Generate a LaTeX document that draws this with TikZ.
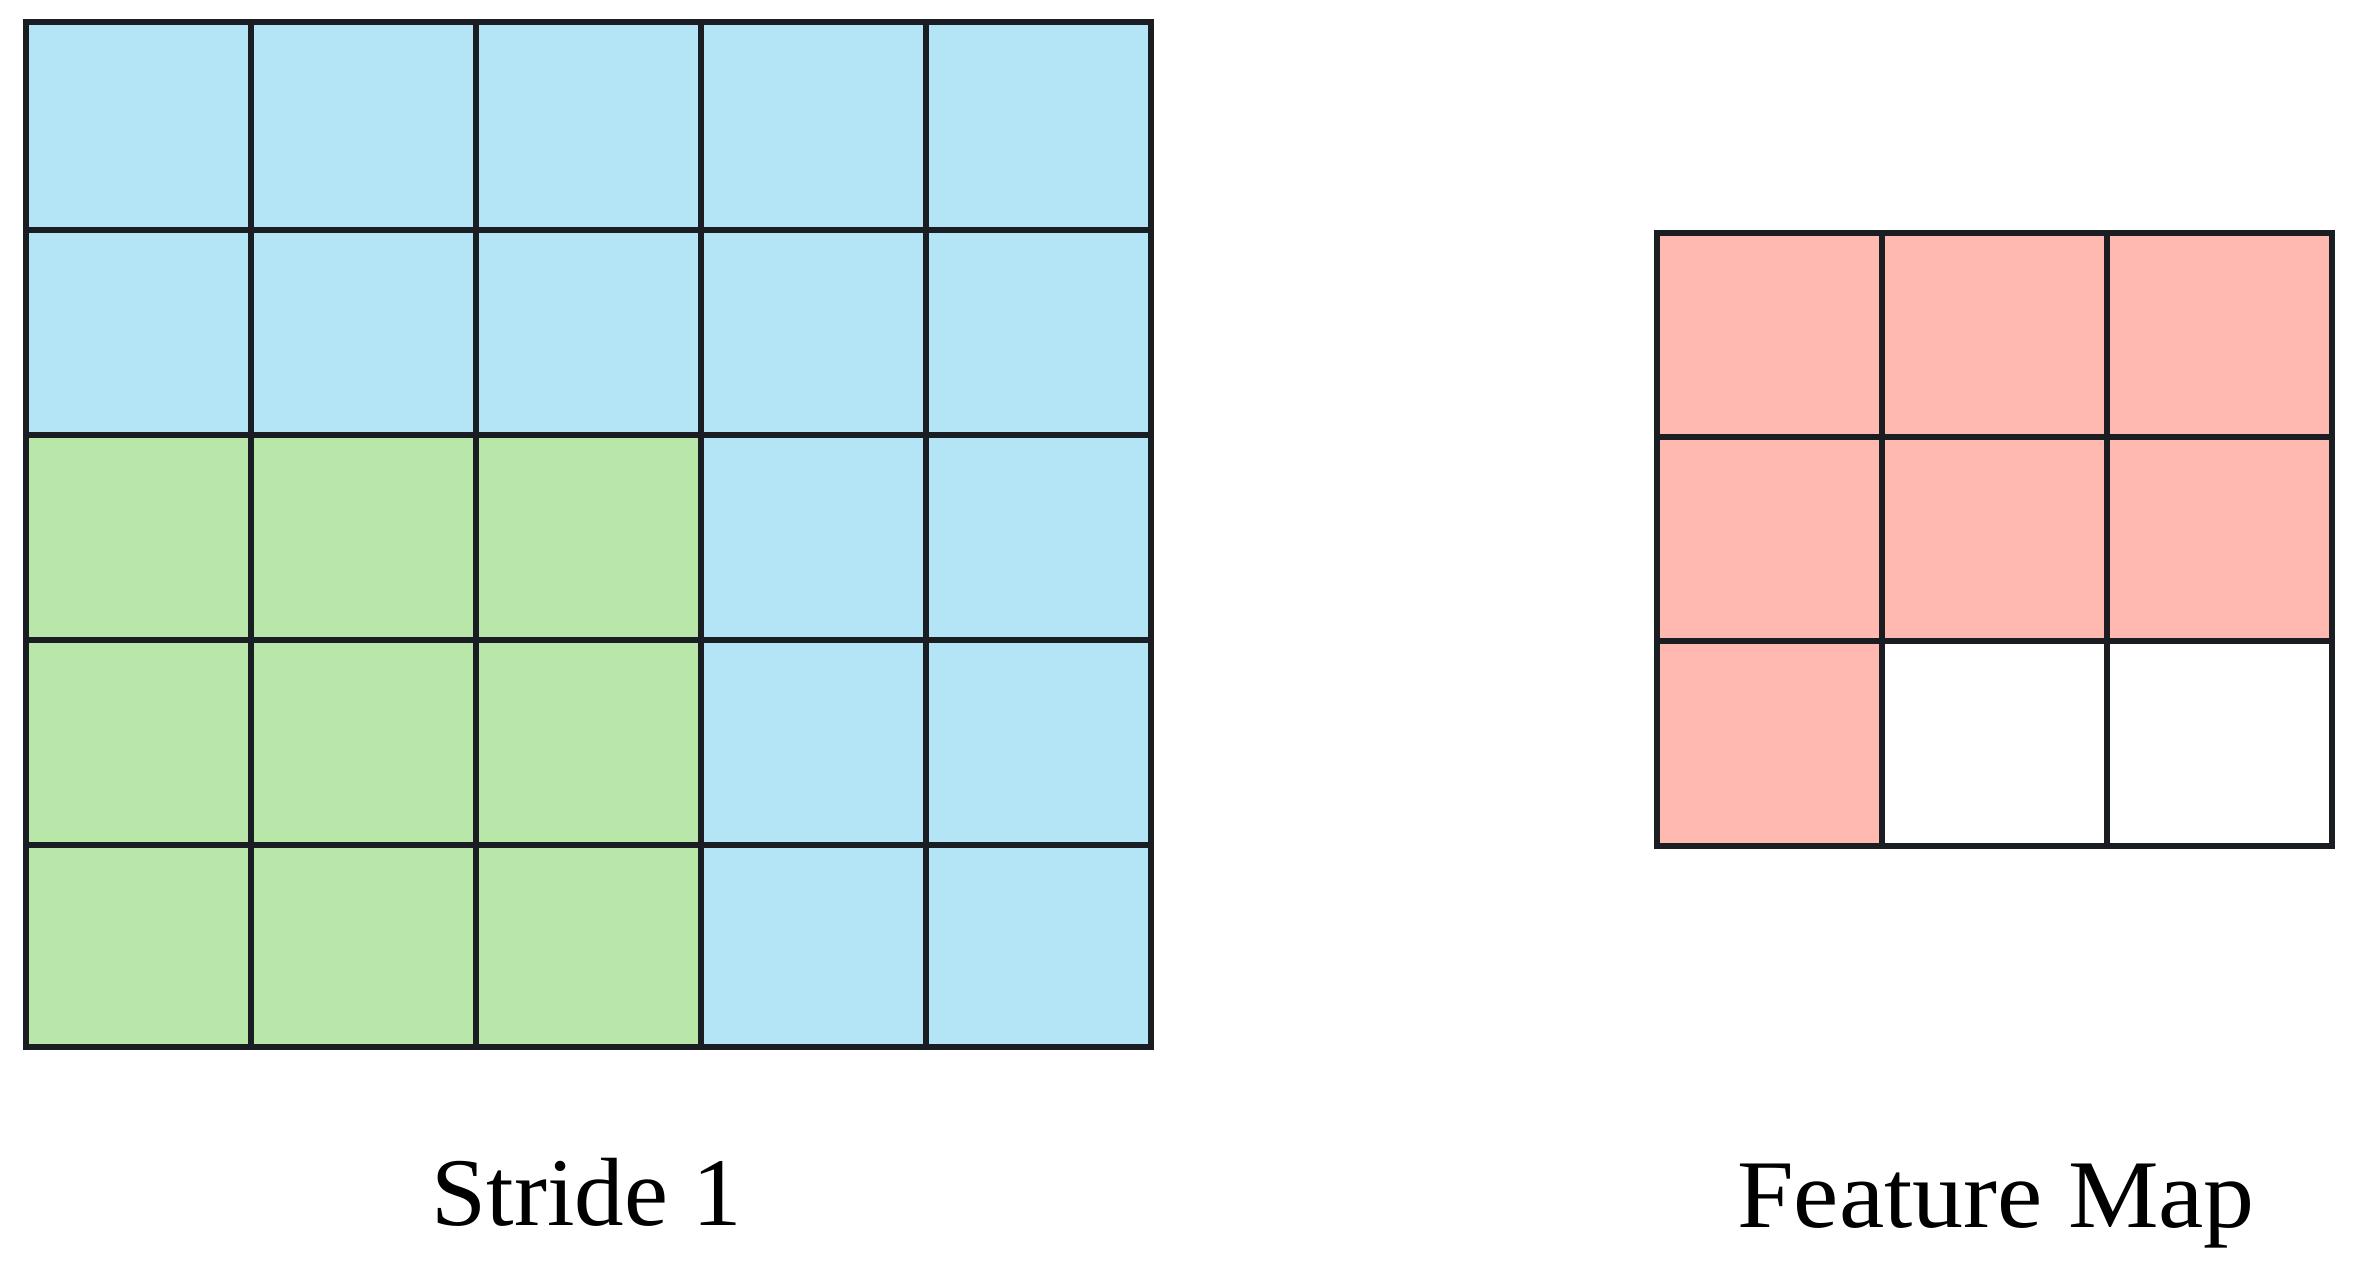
\documentclass[tikz,border=0pt]{standalone}
\usepackage{fontspec}
\setmainfont{Liberation Serif}
\definecolor{cellblue}{HTML}{B3E5F7}
\definecolor{cellgreen}{HTML}{B9E6A9}
\definecolor{cellpink}{HTML}{FFB9B0}
\definecolor{gridline}{HTML}{1A1E22}
\begin{document}
\begin{tikzpicture}[x=1pt,y=-1pt,
  gridstyle/.style={draw=gridline,line width=5.5pt,line cap=rect,line join=miter},
  labelstyle/.style={font=\fontsize{97}{105}\selectfont,anchor=base,inner sep=0pt}]
\useasboundingbox (0,0) rectangle (2361,1269);
% left input grid
\fill[cellblue] (26,22) rectangle (1151,1047);
\fill[cellgreen] (26,435) rectangle (701,1047);
\draw[gridstyle] (26,22) rectangle (1151,1047);
\foreach \x in {251,476,701,926} \draw[gridstyle] (\x,22) -- (\x,1047);
\foreach \y in {230,435,640,845} \draw[gridstyle] (26,\y) -- (1151,\y);
% right feature map
\fill[cellpink] (1657,233) rectangle (2332,641);
\fill[cellpink] (1657,641) rectangle (1882,846);
\draw[gridstyle] (1657,233) rectangle (2332,846);
\foreach \x in {1882,2107} \draw[gridstyle] (\x,233) -- (\x,846);
\foreach \y in {437,641} \draw[gridstyle] (1657,\y) -- (2332,\y);
% labels
\node[labelstyle,xscale=1.02] (stride) at (587,1225) {Stride 1};
\node[labelstyle,xscale=1.05] (fmap) at (1996,1227) {Feature Map};
\end{tikzpicture}
\end{document}
